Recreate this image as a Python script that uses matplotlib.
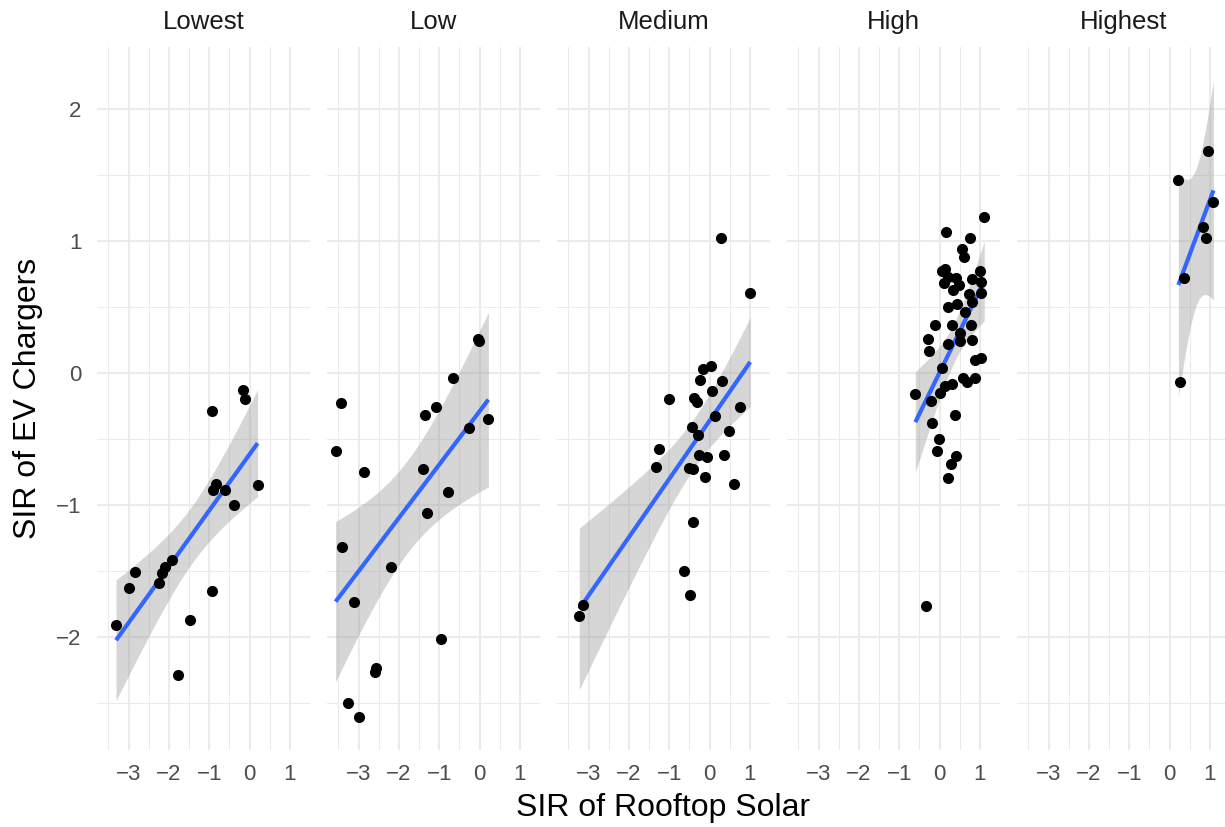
import math

import numpy as np
import matplotlib
matplotlib.use("Agg")
import matplotlib.pyplot as plt

plt.rcParams['font.family'] = ['Liberation Sans', 'DejaVu Sans']

# facet labels
panels = ['Lowest', 'Low', 'Medium', 'High', 'Highest']

# SIR of rooftop solar (x) and SIR of EV chargers (y)
lowest_x = [-0.15, -0.10, -0.92, 0.20, -0.84, -0.90, -0.61, -0.39, -1.93, -2.10,
            -2.16, -2.24, -2.84, -2.98, -0.93, -1.47, -3.31, -1.78]
lowest_y = [-0.13, -0.20, -0.29, -0.85, -0.84, -0.89, -0.89, -1.00, -1.42, -1.47,
            -1.52, -1.59, -1.51, -1.63, -1.65, -1.87, -1.91, -2.29]

low_x = [-0.03, -0.01, -0.66, -3.43, -1.08, -1.34, 0.22, -0.27, -3.57, -2.87, -1.41,
         -0.77, -1.30, -3.42, -2.20, -3.12, -0.96, -2.57, -2.60, -3.26, -2.98]
low_y = [0.26, 0.24, -0.04, -0.23, -0.26, -0.32, -0.35, -0.42, -0.59, -0.75, -0.73,
         -0.90, -1.06, -1.32, -1.47, -1.74, -2.02, -2.24, -2.27, -2.50, -2.61]

medium_x = [0.28, 1.01, -0.17, 0.03, -0.24, 0.30, -1.00, -0.39, -0.31, 0.05, 0.75,
            0.14, -0.43, -0.28, 0.48, -1.25, -1.33, -0.26, -0.06, 0.36, -0.51, -0.42,
            -0.10, 0.60, -0.41, -0.64, -0.49, -3.14, -3.23]
medium_y = [1.02, 0.61, 0.03, 0.05, -0.05, -0.06, -0.20, -0.19, -0.22, -0.14, -0.26,
            -0.33, -0.41, -0.47, -0.44, -0.58, -0.71, -0.62, -0.64, -0.62, -0.72, -0.73,
            -0.79, -0.84, -1.13, -1.50, -1.68, -1.76, -1.84]

high_x = [1.11, 0.16, 0.75, 0.55, 0.60, 0.14, 0.06, 1.01, 0.22, 0.41, 0.10, 0.48,
          0.81, 1.03, 0.72, 1.03, 0.21, 0.44, 0.80, 0.63, 0.34, -0.10, 0.31, 0.79,
          0.51, -0.28, 0.22, 0.51, 0.80, -0.27, 1.04, 0.89, 0.05, 0.14, 0.31, 0.59,
          0.87, 0.67, 0.02, -0.60, -0.22, 0.39, -0.18, -0.02, -0.07, 0.40, 0.29, 0.21,
          -0.34]
high_y = [1.18, 1.07, 1.02, 0.94, 0.88, 0.79, 0.77, 0.77, 0.73, 0.72, 0.68, 0.67,
          0.71, 0.69, 0.60, 0.61, 0.50, 0.52, 0.54, 0.46, 0.63, 0.36, 0.36, 0.36,
          0.30, 0.26, 0.22, 0.24, 0.25, 0.17, 0.11, 0.10, 0.04, -0.10, -0.08, -0.04,
          -0.04, -0.07, -0.15, -0.16, -0.21, -0.32, -0.38, -0.50, -0.59, -0.63, -0.69,
          -0.80, -1.77]

highest_x = [0.96, 0.22, 1.09, 0.84, 0.91, 0.36, 0.25]
highest_y = [1.68, 1.46, 1.30, 1.11, 1.02, 0.72, -0.07]

xs = [lowest_x, low_x, medium_x, high_x, highest_x]
ys = [lowest_y, low_y, medium_y, high_y, highest_y]


def t_ppf(p, df):
    # quantile of Student's t by bisection on a numeric cdf
    c = math.exp(math.lgamma((df + 1) / 2) - math.lgamma(df / 2)) / math.sqrt(df * math.pi)
    grid = np.linspace(0, 40, 200001)
    pdf = c * (1 + grid ** 2 / df) ** (-(df + 1) / 2)
    cdf = 0.5 + np.concatenate([[0], np.cumsum((pdf[1:] + pdf[:-1]) / 2 * np.diff(grid))])
    return float(np.interp(p, cdf, grid))


def lm_band(x, y, n_out=80):
    # straight-line fit with a 95% confidence band, like geom_smooth(method="lm")
    x = np.asarray(x, float)
    y = np.asarray(y, float)
    n = len(x)
    b, a = np.polyfit(x, y, 1)
    resid = y - (a + b * x)
    s = math.sqrt(np.sum(resid ** 2) / (n - 2))
    xg = np.linspace(x.min(), x.max(), n_out)
    fit = a + b * xg
    se = s * np.sqrt(1 / n + (xg - x.mean()) ** 2 / np.sum((x - x.mean()) ** 2))
    t = t_ppf(0.975, n - 2)
    return xg, fit, fit - t * se, fit + t * se


W, H = 1225, 827
fig = plt.figure(figsize=(W / 100, H / 100), dpi=100)

left0, pw, step = 96.7, 213.3, 230.0
top, bottom = 46.7, 750.0
xlim = (-3.790, 1.349)
ylim = (-2.859, 2.474)

for i, name in enumerate(panels):
    l = left0 + i * step
    ax = fig.add_axes([l / W, 1 - bottom / H, pw / W, (bottom - top) / H])
    ax.set_xlim(*xlim)
    ax.set_ylim(*ylim)
    for sp in ax.spines.values():
        sp.set_visible(False)
    ax.set_xticks([-3, -2, -1, 0, 1])
    ax.set_xticks(np.arange(-3.5, 1.6, 1.0), minor=True)
    ax.set_yticks([-2, -1, 0, 1, 2])
    ax.set_yticks([-2.5, -1.5, -0.5, 0.5, 1.5], minor=True)
    ax.grid(which='major', color='#EBEBEB', lw=1.5, zorder=0)
    ax.grid(which='minor', color='#EBEBEB', lw=0.75, zorder=0)
    ax.tick_params(which='both', length=0, labelsize=16, labelcolor='#4D4D4D')
    ax.tick_params(axis='x', pad=10)
    ax.tick_params(axis='y', pad=11)
    if i > 0:
        ax.tick_params(axis='y', labelleft=False)
    ax.set_axisbelow(True)

    xg, fit, lo, hi = lm_band(xs[i], ys[i])
    ax.fill_between(xg, lo, hi, color='#999999', alpha=0.4, lw=0, zorder=2)
    ax.plot(xg, fit, color='#3366FF', lw=3, zorder=3, solid_capstyle='butt')
    ax.scatter(xs[i], ys[i], s=64, color='black', lw=0, zorder=4)

    ax.text(0.5, 1 + (top - 22) / (bottom - top), name, transform=ax.transAxes,
            ha='center', va='center', fontsize=18.5, color='#1A1A1A')

fig.text((left0 + 4 * step + pw + left0) / 2 / W, 1 - 808 / H, 'SIR of Rooftop Solar',
         ha='center', va='center', fontsize=23)
fig.text(28 / W, 1 - (top + bottom) / 2 / H, 'SIR of EV Chargers', rotation=90,
         ha='center', va='center', fontsize=23)

fig.savefig('out.png', dpi=100, facecolor='white')
